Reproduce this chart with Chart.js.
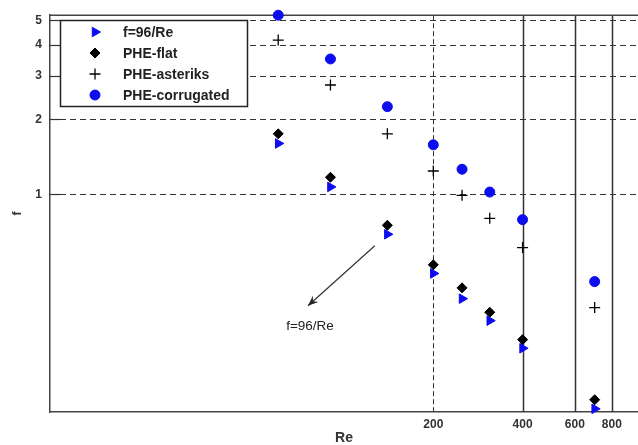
<!DOCTYPE html>
<html>
<head>
<meta charset="utf-8">
<script src="https://cdn.jsdelivr.net/npm/chart.js@4.4.0/dist/chart.umd.min.js"></script>
<style>
  html, body { margin: 0; padding: 0; background: #fff; overflow: hidden; }
  #wrap { width: 638px; height: 445px; position: relative; }
</style>
</head>
<body>
<div id="wrap"><canvas id="chart"></canvas></div>
<script>
// --- Data (log-log axes) ---
const reValues = [60, 90, 140, 200, 250, 310, 400, 700];
const fTheory = [1.6, 1.07, 0.69, 0.48, 0.38, 0.31, 0.24, 0.137];
const fFlat = [1.75, 1.17, 0.75, 0.52, 0.42, 0.335, 0.26, 0.149];
const fAsteriks = [4.17, 2.75, 1.75, 1.24, 0.99, 0.80, 0.61, 0.35];
const fCorrugated = [5.25, 3.5, 2.25, 1.58, 1.26, 1.02, 0.79, 0.445];
const seriesNames = ['f=96/Re', 'PHE-flat', 'PHE-asteriks', 'PHE-corrugated'];
const xTicks = [200, 400, 600, 800];
const yTicks = [1, 2, 3, 4, 5];

const BLUE = '#0c0cee';
const INK = '#222';
const GRID = '#333';
const FONT = '"Liberation Sans", Arial, sans-serif';

function toPoints(ys) {
    return reValues.map((x, i) => ({ x: x, y: ys[i] }));
}

// --- Grid, frame and inward ticks ---
const gridPlugin = {
    id: 'gridLines',
    beforeDatasetsDraw(chart) {
        const { ctx, chartArea: a, scales: { x, y } } = chart;
        ctx.save();
        ctx.strokeStyle = GRID;
        // horizontal dashed lines
        ctx.lineWidth = 1;
        ctx.setLineDash([6, 4]);
        yTicks.forEach(v => {
            const py = Math.round(y.getPixelForValue(v)) + 0.5;
            ctx.beginPath();
            ctx.moveTo(a.left, py);
            ctx.lineTo(a.right, py);
            ctx.stroke();
        });
        // vertical lines: 200 dashed, others solid
        xTicks.forEach((v, i) => {
            const px = Math.round(x.getPixelForValue(v)) + 0.5;
            ctx.setLineDash(i === 0 ? [5, 3] : []);
            ctx.lineWidth = i === 0 ? 1 : 1.5;
            ctx.beginPath();
            ctx.moveTo(px, a.top);
            ctx.lineTo(px, a.bottom);
            ctx.stroke();
        });
        // inward tick marks on the left axis
        ctx.setLineDash([]);
        ctx.lineWidth = 1.2;
        yTicks.forEach(v => {
            const py = Math.round(y.getPixelForValue(v)) + 0.5;
            ctx.beginPath();
            ctx.moveTo(a.left, py);
            ctx.lineTo(a.left + 10, py);
            ctx.stroke();
        });
        // top frame line
        ctx.strokeStyle = '#444';
        ctx.lineWidth = 1.5;
        ctx.beginPath();
        ctx.moveTo(a.left, a.top);
        ctx.lineTo(a.right, a.top);
        ctx.stroke();
        ctx.restore();
    }
};

// --- Boxed legend inside the plot ---
const legendBoxPlugin = {
    id: 'legendBox',
    afterDatasetsDraw(chart, args, opts) {
        const ctx = chart.ctx;
        ctx.save();
        ctx.fillStyle = '#fff';
        ctx.fillRect(opts.left, opts.top, opts.width, opts.height);
        ctx.strokeStyle = INK;
        ctx.lineWidth = 1.5;
        ctx.strokeRect(opts.left, opts.top, opts.width, opts.height);
        chart.data.datasets.forEach((ds, i) => {
            const cy = opts.top + opts.firstRow + i * opts.rowGap;
            ctx.fillStyle = ds.backgroundColor;
            ctx.strokeStyle = ds.borderColor;
            ctx.lineWidth = ds.borderWidth;
            Chart.helpers.drawPoint(ctx, {
                pointStyle: ds.pointStyle,
                radius: ds.pointRadius,
                rotation: ds.rotation || 0,
                borderWidth: ds.borderWidth
            }, opts.markerX, cy);
            ctx.fillStyle = INK;
            ctx.font = 'bold 14px ' + FONT;
            ctx.textBaseline = 'middle';
            ctx.textAlign = 'left';
            ctx.fillText(ds.label, opts.textX, cy + 1);
        });
        ctx.restore();
    }
};

// --- Arrow note pointing at the theory line ---
const notePlugin = {
    id: 'arrowNote',
    afterDatasetsDraw(chart, args, opts) {
        const { ctx, scales: { x, y } } = chart;
        const x1 = x.getPixelForValue(opts.from[0]), y1 = y.getPixelForValue(opts.from[1]);
        const x2 = x.getPixelForValue(opts.to[0]), y2 = y.getPixelForValue(opts.to[1]);
        const ang = Math.atan2(y2 - y1, x2 - x1);
        ctx.save();
        ctx.strokeStyle = '#333';
        ctx.fillStyle = '#222';
        ctx.lineWidth = 1.2;
        ctx.beginPath();
        ctx.moveTo(x1, y1);
        ctx.lineTo(x2, y2);
        ctx.stroke();
        const len = 11, spread = 0.38;
        ctx.beginPath();
        ctx.moveTo(x2, y2);
        ctx.lineTo(x2 - len * Math.cos(ang - spread), y2 - len * Math.sin(ang - spread));
        ctx.lineTo(x2 - len * 0.6 * Math.cos(ang), y2 - len * 0.6 * Math.sin(ang));
        ctx.lineTo(x2 - len * Math.cos(ang + spread), y2 - len * Math.sin(ang + spread));
        ctx.closePath();
        ctx.fill();
        ctx.font = '13.5px ' + FONT;
        ctx.textAlign = 'center';
        ctx.textBaseline = 'middle';
        ctx.fillText(opts.text, x.getPixelForValue(opts.textAt[0]), y.getPixelForValue(opts.textAt[1]));
        ctx.restore();
    }
};

const tickFont = { family: FONT, size: 12, weight: 'bold' };

new Chart(document.getElementById('chart'), {
    type: 'scatter',
    data: {
        datasets: [
            {
                label: seriesNames[0], data: toPoints(fTheory),
                pointStyle: 'triangle', rotation: 90, pointRadius: 5.5,
                backgroundColor: BLUE, borderColor: BLUE, borderWidth: 1, clip: false
            },
            {
                label: seriesNames[1], data: toPoints(fFlat),
                pointStyle: 'rectRot', pointRadius: 5,
                backgroundColor: '#000', borderColor: '#000', borderWidth: 1, clip: false
            },
            {
                label: seriesNames[2], data: toPoints(fAsteriks),
                pointStyle: 'cross', pointRadius: 5.5,
                backgroundColor: '#000', borderColor: '#000', borderWidth: 1.3, clip: false
            },
            {
                label: seriesNames[3], data: toPoints(fCorrugated),
                pointStyle: 'circle', pointRadius: 5,
                backgroundColor: BLUE, borderColor: BLUE, borderWidth: 1, clip: false
            }
        ]
    },
    options: {
        responsive: true,
        maintainAspectRatio: false,
        animation: false,
        layout: { autoPadding: false, padding: { top: 13, right: 0, left: 0, bottom: 0 } },
        plugins: {
            legend: { display: false },
            tooltip: { enabled: false },
            legendBox: { left: 60.5, top: 20.5, width: 187, height: 86, markerX: 95, textX: 123, firstRow: 11.5, rowGap: 21 },
            arrowNote: { from: [127, 0.62], to: [75.6, 0.356], text: 'f=96/Re', textAt: [76.8, 0.294] }
        },
        scales: {
            x: {
                type: 'logarithmic',
                min: 10.2,
                max: 980,
                afterBuildTicks: s => { s.ticks = xTicks.map(v => ({ value: v })); },
                afterFit: s => { s.height = 33; },
                grid: { display: false, drawTicks: false },
                border: { display: true, color: '#444', width: 1.5 },
                ticks: { callback: v => String(v), font: tickFont, color: '#333', padding: 5, maxRotation: 0, autoSkip: false },
                title: { display: true, text: 'Re', font: { family: FONT, size: 14, weight: 'bold', lineHeight: 1 }, color: '#333', padding: { top: 0, bottom: 0 } }
            },
            y: {
                type: 'logarithmic',
                min: 0.133,
                max: 5.25,
                afterBuildTicks: s => { s.ticks = yTicks.map(v => ({ value: v })); },
                afterFit: s => { s.width = 50; },
                grid: { display: false, drawTicks: false },
                border: { display: true, color: '#444', width: 1.5 },
                ticks: { callback: v => String(v), font: tickFont, color: '#333', padding: 8, autoSkip: false },
                title: { display: true, text: 'f', font: { family: FONT, size: 12, weight: 'bold', lineHeight: 1 }, color: '#333', padding: { top: 12, bottom: 0 } }
            }
        }
    },
    plugins: [gridPlugin, legendBoxPlugin, notePlugin]
});
</script>
</body>
</html>
